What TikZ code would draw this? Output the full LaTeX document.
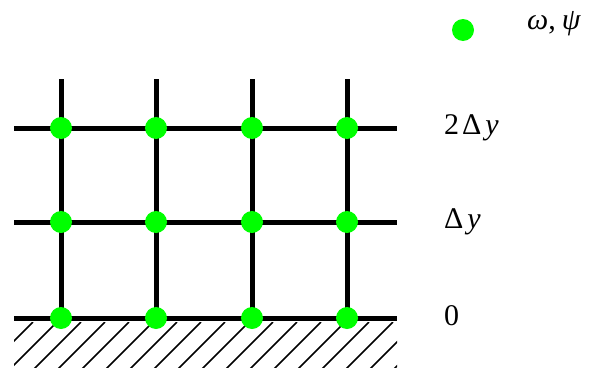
\documentclass[tikz,border=0pt]{standalone}
\usepackage{fontspec}
\setmainfont{Liberation Serif}
\begin{document}
\begin{tikzpicture}[
        x=1pt, y=-1pt,
        font=\fontsize{30}{36}\selectfont,
        gridline/.style={line width=5pt, black},
        hatchline/.style={line width=1.6pt, black},
        nodedot/.style={circle, fill=green, inner sep=0pt, minimum size=22pt},
        levellabel/.style={anchor=west, inner sep=0pt}
    ]
        \useasboundingbox (0,0) rectangle (592,367);

        % wall hatching
        \begin{scope}
            \clip (14,322) rectangle (397,367);
            \foreach \k in {0,...,18}
                \draw[hatchline] (33+24*\k,322) -- (-17+24*\k,372);
        \end{scope}

        % grid
        \foreach \x in {61,156,252,347}
            \draw[gridline] (\x,79) -- (\x,318);
        \foreach \y in {128,222,318}
            \draw[gridline] (14,\y) -- (397,\y);

        % grid points
        \foreach \x [count=\i] in {61,156,252,347}
            \foreach \y [count=\j] in {128,222,318}
                \node[nodedot] (p\i\j) at (\x,\y) {};

        % levels
        \node[levellabel] (ytwo) at (444,128) {2\kern3ptΔ\kern4pt\textit{y}};
        \node[levellabel] (yone) at (444,222) {Δ\kern4pt\textit{y}};
        \node[levellabel] (yzero) at (444,316) {0};

        % legend
        \node[nodedot] (legenddot) at (463,30) {};
        \node[levellabel] (legendtext) at (527,24) {\textit{ω},\kern6pt\textit{ψ}};
    \end{tikzpicture}
\end{document}
